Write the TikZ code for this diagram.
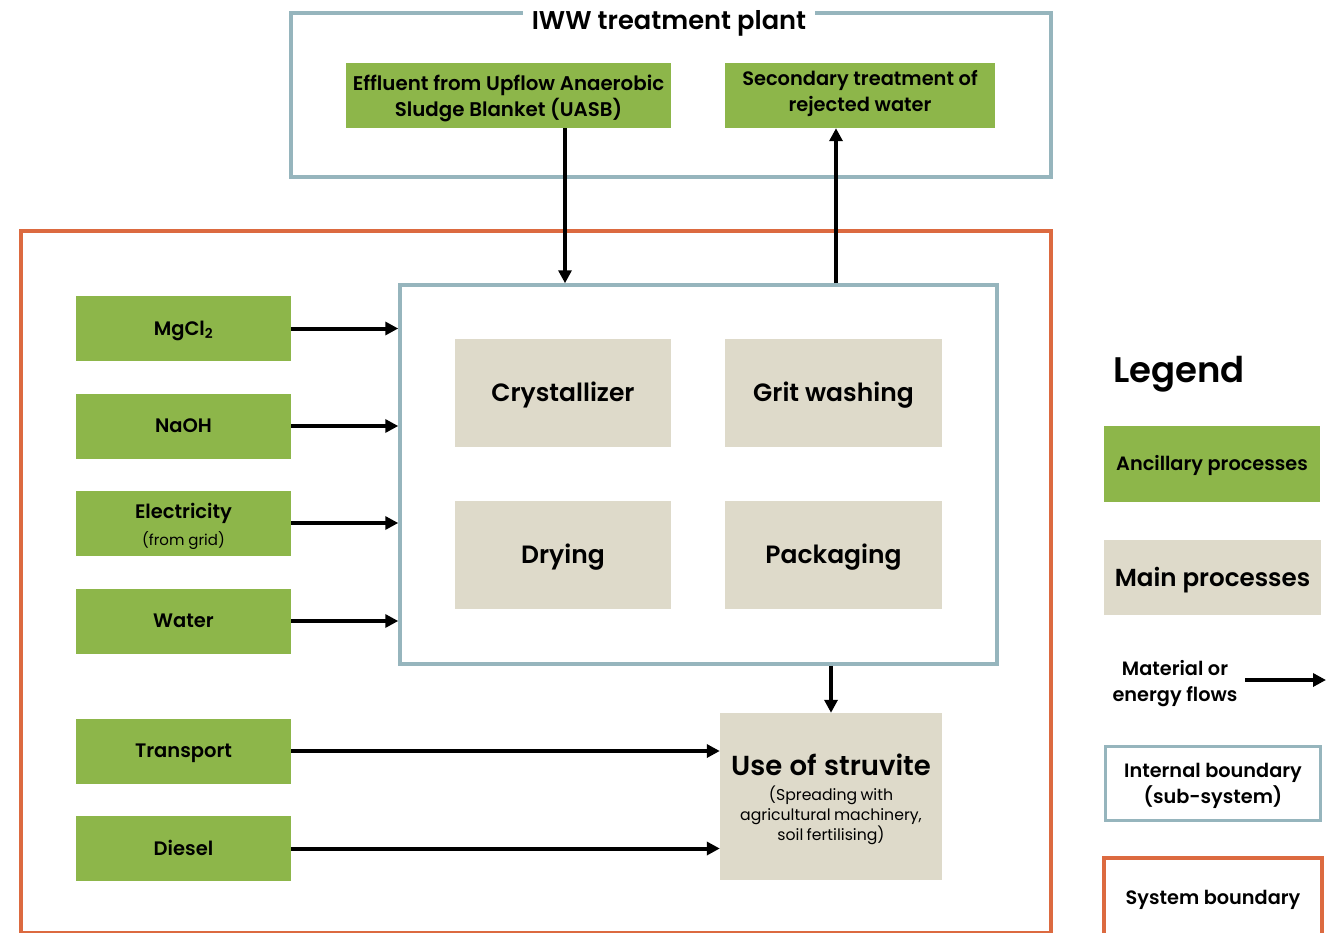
\documentclass[tikz,border=0pt]{standalone}
\usepackage{fontspec}
\setmainfont{Poppins}[BoldFont={Poppins SemiBold}]
\usetikzlibrary{arrows.meta,calc}
\definecolor{ancgreen}{HTML}{8DB64A}
\definecolor{mainbeige}{HTML}{DEDACA}
\definecolor{subblue}{HTML}{96B5BD}
\definecolor{sysorange}{HTML}{DC6A40}
\tikzset{
  ancbox/.style={fill=ancgreen, minimum width=215pt, minimum height=65pt, inner sep=0pt},
  anc/.style={ancbox, font=\bfseries\fontsize{19.5}{24}\selectfont, text height=13.6pt, text depth=0pt},
  mainproc/.style={fill=mainbeige, minimum width=216pt, minimum height=108pt, inner sep=0pt,
    font=\bfseries\fontsize{25}{30}\selectfont, text height=17.5pt, text depth=0pt},
  multitext/.style={inner sep=0pt, align=center},
  subsys/.style={draw=subblue, line width=3.5pt},
  sysbound/.style={draw=sysorange, line width=3.5pt},
  flow/.style={line width=4pt, -{Triangle[length=13pt,width=13pt]}},
}
\begin{document}
\begin{tikzpicture}[x=1pt,y=-1pt]
\clip (0,0) rectangle (1340,933);
\fill[white] (0,0) rectangle (1340,933);

% system boundary
\draw[sysbound] (21,231) rectangle (1051,933);

% IWW treatment plant sub-system
\node[subsys, minimum width=760pt, minimum height=164pt] (iww) at (671,95) {};
\node[fill=white, inner xsep=9pt, inner ysep=5pt, font=\bfseries\fontsize{25.7}{28}\selectfont, text height=18pt, text depth=0pt] (iwwtitle) at (669,21) {IWW treatment plant};
\node[ancbox, minimum width=325pt] (effluent) at (508.5,95.5) {};
\node[multitext, font=\bfseries\fontsize{19.8}{26}\selectfont] (effluenttxt) at (508.5,98) {Effluent from Upflow Anaerobic\\Sludge Blanket (UASB)};
\node[ancbox, minimum width=270pt] (secondary) at (860,95.5) {};
\node[multitext, font=\bfseries\fontsize{19.4}{26}\selectfont] (secondarytxt) at (860,93) {Secondary treatment of\\rejected water};

% main process sub-system
\node[subsys, minimum width=597pt, minimum height=379pt] (inner) at (698.5,474.5) {};
\node[mainproc] (cryst) at (563,393) {Crystallizer};
\node[mainproc, minimum width=217pt] (grit) at (833.5,393) {Grit washing};
\node[mainproc] (drying) at (563,555) {Drying};
\node[mainproc, minimum width=217pt] (pack) at (833.5,555) {Packaging};

% ancillary inputs
\node[anc] (mgcl) at (183.5,328.5) {MgCl\textsubscript{2}};
\node[anc] (naoh) at (183.5,426) {NaOH};
\node[ancbox] (elec) at (183.5,523) {};
\node[multitext, font=\bfseries\fontsize{19.5}{24}\selectfont] (electxt) at (183.5,526) {Electricity\\[3pt]\mdseries\fontsize{15}{18}\selectfont(from grid)};
\node[anc] (water) at (183.5,621) {Water};
\node[anc] (transport) at (183.5,751) {Transport};
\node[anc] (diesel) at (183.5,848.5) {Diesel};

% use of struvite
\node[fill=mainbeige, minimum width=222pt, minimum height=167pt, inner sep=0pt] (use) at (831,796.5) {};
\node[inner sep=0pt, text width=214pt, align=center] (usetxt) at (831,799.5)
  {{\bfseries\fontsize{27.5}{32}\selectfont\spaceskip=0.27em Use of struvite\par}\vspace{4pt}%
   {\fontsize{15.7}{20.3}\selectfont (Spreading with\\agricultural machinery,\\soil fertilising)\par}};

% flows
\foreach \n in {mgcl,naoh,elec,water}
  \draw[flow] (\n.east) -- (\n.east -| inner.west);
\draw[flow] (transport.east) -- (transport.east -| use.west);
\draw[flow] (diesel.east) -- (diesel.east -| use.west);
\draw[flow] ([xshift=56.5pt]effluent.south) -- ([xshift=56.5pt]effluent.south |- inner.north);
\draw[flow] ([xshift=-24pt]secondary.south |- inner.north) -- ([xshift=-24pt]secondary.south);
\draw[flow] (use.north |- inner.south) -- (use.north);

% legend
\node[anchor=west, font=\bfseries\fontsize{35.5}{40}\selectfont, inner sep=0pt, text height=24.8pt, text depth=0pt] (legtitle) at (1113,370) {Legend};
\node[anc, minimum width=216pt, minimum height=76pt, font=\bfseries\fontsize{19.3}{24}\selectfont, text height=13.5pt] (legano) at (1212,464) {Ancillary processes};
\node[fill=mainbeige, minimum width=217pt, minimum height=75pt, inner sep=0pt, font=\bfseries\fontsize{24.6}{28}\selectfont, text height=17.2pt, text depth=0pt] (legmain) at (1212.5,577.5) {Main processes};
\node[multitext, font=\bfseries\fontsize{19.3}{26}\selectfont] (legflowtxt) at (1175,684) {Material or\\energy flows};
\coordinate (legarrowstart) at (1245,680);
\coordinate (legarrowend) at (1326,680);
\draw[flow] (legarrowstart) -- (legarrowend);
\node[subsys, minimum width=215pt, minimum height=74pt] (legint) at (1213,783.5) {};
\node[multitext, font=\bfseries\fontsize{19.3}{26}\selectfont] (leginttxt) at (1213,786) {Internal boundary\\(sub-system)};
\draw[sysbound] (1104,858) rectangle (1322,960);
\node[font=\bfseries\fontsize{19.3}{24}\selectfont, text height=13.5pt, text depth=0pt, inner sep=0pt] (legsys) at (1213,898) {System boundary};
\end{tikzpicture}
\end{document}
